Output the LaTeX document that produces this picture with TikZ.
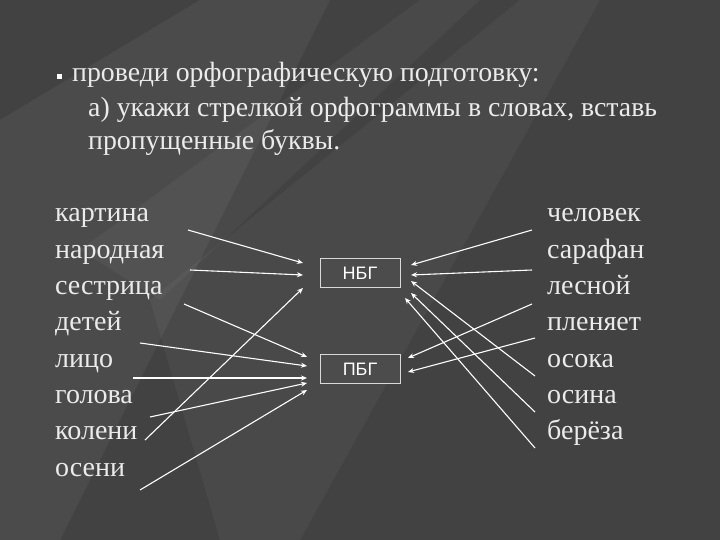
\documentclass[tikz,border=0pt]{standalone}
\usepackage{fontspec}
\setmainfont{Liberation Serif}
\newfontfamily\sansf{Liberation Sans}
\usetikzlibrary{arrows.meta}
\begin{document}
\begin{tikzpicture}[x=1pt,y=-1pt,
  wd/.style={anchor=base west,text=white!92!black,font=\fontsize{28}{32}\selectfont,inner sep=0},
  ttl/.style={anchor=base west,text=white!92!black,font=\fontsize{27.8}{32}\selectfont,inner sep=0},
  bx/.style={draw=white!85!black,fill=gray!60!black,text=white,minimum width=80,minimum height=29,font=\sansf\fontsize{18}{20}\selectfont,line width=1pt},
  ar/.style={draw=white,line width=1.1pt,-{Stealth[length=6pt,width=5pt]}}]
\fill[black!74] (0,0) rectangle (720,540);
\fill[white,opacity=0.05] (0,120) -- (200,0) -- (330,0) -- (60,540) -- (0,540) -- cycle;
\fill[white,opacity=0.04] (150,300) -- (520,0) -- (600,0) -- (300,540) -- (220,540) -- cycle;
\fill[white,opacity=0.04] (80,250) -- (420,0) -- (480,0) -- (160,300) -- cycle;
\useasboundingbox (0,0) rectangle (720,540);
\fill[white] (57,74) rectangle (62,79);
\node[ttl] (t1) at (72,82) {проведи орфографическую подготовку:};
\node[ttl] (t2) at (88,117) {а) укажи стрелкой орфограммы в словах, вставь};
\node[ttl] (t3) at (88,150) {пропущенные буквы.};
\foreach \w [count=\i] in {картина,народная,сестрица,детей,лицо,голова,колени,осени}
  \node[wd] (l\i) at (55,222+36.3*\i-36.3) {\w};
\foreach \w [count=\i] in {человек,сарафан,лесной,пленяет,осока,осина,берёза}
  \node[wd] (r\i) at (547,222+36.3*\i-36.3) {\w};
\node[bx] (n) at (360,273) {НБГ};
\node[bx] (p) at (360,369) {ПБГ};
\coordinate (a1) at (188,230); \coordinate (a2) at (190,270); \coordinate (a3) at (184,304);
\coordinate (a4) at (140,343); \coordinate (a5) at (133,378); \coordinate (a6) at (150,417);
\coordinate (a7) at (145,440); \coordinate (a8) at (140,490);
\draw[ar] (a1) -- (303,263);
\draw[ar] (a2) -- (303,275);
\draw[ar] (a3) -- (307,357);
\draw[ar] (a4) -- (307,366);
\draw[ar] (a5) -- (307,378);
\draw[ar] (a6) -- (307,383);
\draw[ar] (a7) -- (303,288);
\draw[ar] (a8) -- (307,390);
\coordinate (b1) at (532,230); \coordinate (b2) at (532,270); \coordinate (b3) at (532,304);
\coordinate (b4) at (535,338); \coordinate (b5) at (535,376); \coordinate (b6) at (535,412);
\coordinate (b7) at (535,448);
\draw[ar] (b1) -- (411,265);
\draw[ar] (b2) -- (411,275);
\draw[ar] (b3) -- (408,358);
\draw[ar] (b4) -- (408,372);
\draw[ar] (b5) -- (411,281);
\draw[ar] (b6) -- (411,293);
\draw[ar] (b7) -- (405,298);
\end{tikzpicture}
\end{document}
